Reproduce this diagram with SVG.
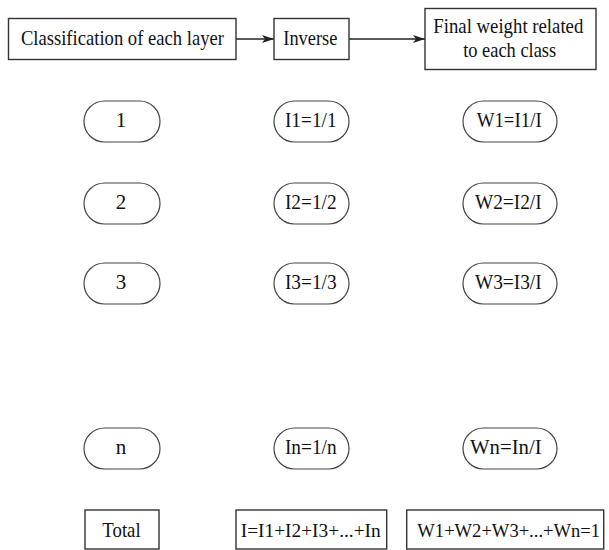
<svg xmlns="http://www.w3.org/2000/svg" width="609" height="550" viewBox="0 0 609 550">
<style>
.box{fill:#fff;stroke:#333;stroke-width:1.4}
.oval{fill:#fff;stroke:#444;stroke-width:1.2}
.t{font-family:"Liberation Serif","Times New Roman",serif;font-size:21px;fill:#111;text-anchor:middle}
.s{font-size:19px}
.conn{stroke:#222;stroke-width:1.4;fill:none}
</style>
<defs>
<marker id="arr" viewBox="0 0 12 8" refX="12" refY="4" markerWidth="12" markerHeight="8" markerUnits="userSpaceOnUse" orient="auto">
<path d="M0,0 L12,4 L0,8 L3,4 Z" fill="#222"/>
</marker>
</defs>
<g id="connectors">
<line class="conn" x1="236" y1="39" x2="274" y2="39" marker-end="url(#arr)"/>
<line class="conn" x1="349" y1="39" x2="425" y2="39" marker-end="url(#arr)"/>
</g>
<g id="classification">
<rect class="box" x="8.5" y="18.5" width="227.5" height="41"/>
<text class="t" x="122.4" y="45" textLength="203" lengthAdjust="spacingAndGlyphs">Classification of each layer</text>
</g>
<g id="inverse">
<rect class="box" x="274" y="18.5" width="75" height="41"/>
<text class="t" x="310.3" y="45" textLength="54" lengthAdjust="spacingAndGlyphs">Inverse</text>
</g>
<g id="final">
<rect class="box" x="425" y="8.5" width="171" height="61"/>
<text class="t" x="508.3" y="33.3" textLength="150" lengthAdjust="spacingAndGlyphs">Final weight related</text>
<text class="t" x="509.7" y="56.7" textLength="93" lengthAdjust="spacingAndGlyphs">to each class</text>
</g>
<g id="c1"><rect class="oval" x="84" y="101" width="76" height="41" rx="20.5"/><text class="t" x="121" y="127.3">1</text></g>
<g id="i1"><rect class="oval" x="274" y="101" width="75" height="41" rx="20.5"/><text class="t" x="310.8" y="127.3" textLength="51.7" lengthAdjust="spacingAndGlyphs">I1=1/1</text></g>
<g id="w1"><rect class="oval" x="463" y="101" width="94" height="41" rx="20.5"/><text class="t" x="509.2" y="127.3" textLength="65" lengthAdjust="spacingAndGlyphs">W1=I1/I</text></g>
<g id="c2"><rect class="oval" x="84" y="183" width="76" height="41" rx="20.5"/><text class="t" x="121" y="209.3">2</text></g>
<g id="i2"><rect class="oval" x="274" y="183" width="75" height="41" rx="20.5"/><text class="t" x="310.8" y="209.3" textLength="51.7" lengthAdjust="spacingAndGlyphs">I2=1/2</text></g>
<g id="w2"><rect class="oval" x="463" y="183" width="94" height="41" rx="20.5"/><text class="t" x="508.3" y="209.3" textLength="66.7" lengthAdjust="spacingAndGlyphs">W2=I2/I</text></g>
<g id="c3"><rect class="oval" x="84" y="263" width="76" height="41" rx="20.5"/><text class="t" x="121" y="289.3">3</text></g>
<g id="i3"><rect class="oval" x="274" y="263" width="75" height="41" rx="20.5"/><text class="t" x="310.8" y="289.3" textLength="51.7" lengthAdjust="spacingAndGlyphs">I3=1/3</text></g>
<g id="w3"><rect class="oval" x="463" y="263" width="94" height="41" rx="20.5"/><text class="t" x="508.3" y="289.3" textLength="66.7" lengthAdjust="spacingAndGlyphs">W3=I3/I</text></g>
<g id="cn"><rect class="oval" x="84" y="428" width="76" height="41" rx="20.5"/><text class="t" x="121" y="454.3">n</text></g>
<g id="in"><rect class="oval" x="274" y="428" width="75" height="41" rx="20.5"/><text class="t" x="310.8" y="454.3" textLength="51.7" lengthAdjust="spacingAndGlyphs">In=1/n</text></g>
<g id="wn"><rect class="oval" x="463" y="428" width="94" height="41" rx="20.5"/><text class="t" x="505.8" y="454.3" textLength="71.7" lengthAdjust="spacingAndGlyphs">Wn=In/I</text></g>
<g id="total"><rect class="box" x="85" y="510" width="74" height="39"/><text class="t" x="121.5" y="536.7" textLength="38.3" lengthAdjust="spacingAndGlyphs">Total</text></g>
<g id="sumI"><rect class="box" x="236" y="510" width="150.7" height="39"/><text class="t s" x="310.7" y="536.7" textLength="140" lengthAdjust="spacingAndGlyphs">I=I1+I2+I3+...+In</text></g>
<g id="sumW"><rect class="box" x="406.7" y="510" width="197" height="39"/><text class="t s" x="508.7" y="536.7" textLength="182.7" lengthAdjust="spacingAndGlyphs">W1+W2+W3+...+Wn=1</text></g>
</svg>
